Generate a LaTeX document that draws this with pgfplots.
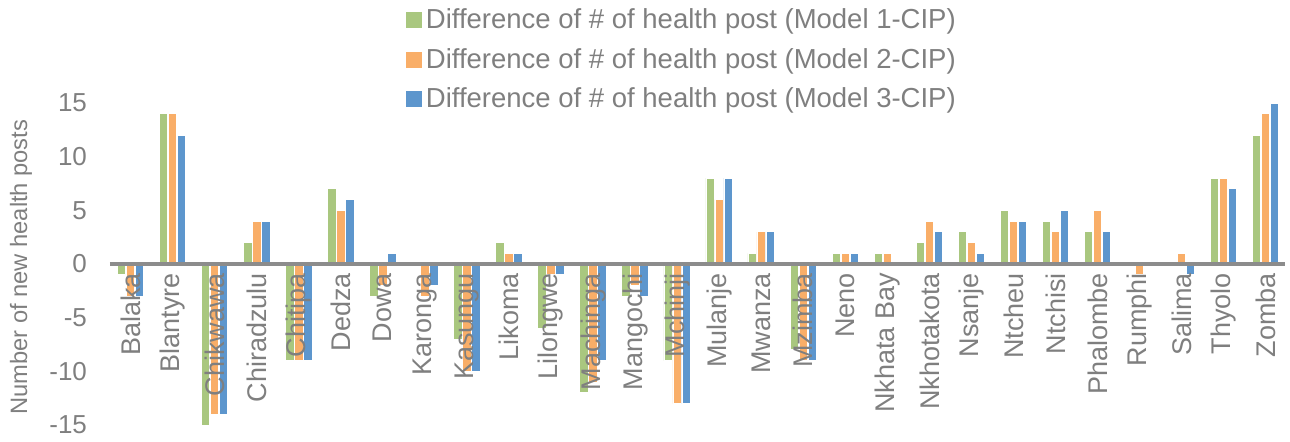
\documentclass[border=0pt]{standalone}
\usepackage{fontspec}
\setmainfont{Liberation Sans}
\usepackage{pgfplots}
\usepackage{pgfplotstable}
\pgfplotsset{compat=1.18}
\definecolor{mGreen}{HTML}{A9C77F}
\definecolor{mOrange}{HTML}{F9AE68}
\definecolor{mBlue}{HTML}{5D96CD}
\definecolor{txtGray}{HTML}{7F7F7F}
\definecolor{axGray}{HTML}{8C8C8C}

% difference of number of health posts per district, models 1-3 vs CIP
\pgfplotstableread[col sep=comma]{
cat,m1,m2,m3
Balaka,-1,-3,-3
Blantyre,14,14,12
Chikwawa,-15,-14,-14
Chiradzulu,2,4,4
Chitipa,-9,-9,-9
Dedza,7,5,6
Dowa,-3,-2,1
Karonga,0,-3,-2
Kasungu,-7,-10,-10
Likoma,2,1,1
Lilongwe,-6,-1,-1
Machinga,-12,-11,-9
Mangochi,-3,-2,-3
Mchinji,-9,-13,-13
Mulanje,8,6,8
Mwanza,1,3,3
Mzimba,-8,-9,-9
Neno,1,1,1
Nkhata Bay,1,1,0
Nkhotakota,2,4,3
Nsanje,3,2,1
Ntcheu,5,4,4
Ntchisi,4,3,5
Phalombe,3,5,3
Rumphi,0,-1,0
Salima,0,1,-1
Thyolo,8,8,7
Zomba,12,14,15
}\hpdata

\begin{document}
\begin{tikzpicture}
\begin{axis}[
  scale only axis,
  width=587.5pt, height=161pt,
  xmin=-0.49, xmax=27.46,
  ymin=-15, ymax=15,
  ytick={-15,-10,...,15},
  xtick={0,...,27},
  xticklabels from table={\hpdata}{cat},
  axis on top,
  axis x line=middle,
  axis y line=left,
  y axis line style={draw=none},
  x axis line style={draw=axGray, line width=1.6pt, -},
  hide obscured x ticks=false,
  hide obscured y ticks=false,
  major tick length=0pt,
  /pgf/number format/assume math mode=true,
  xticklabel style={rotate=90, anchor=east, inner sep=4.5pt,
    font=\fontsize{13.5}{15}\selectfont, text=txtGray},
  yticklabel style={font=\fontsize{13}{15}\selectfont, text=txtGray, xshift=-8pt},
  ylabel={Number of new health posts},
  ylabel style={font=\fontsize{11.85}{13}\selectfont, text=txtGray,
    at={(axis description cs:-0.0757,0.49)}, anchor=center},
  ybar, bar width=0.2,
  legend style={draw=none, fill=none, at={(axis description cs:0.2515,1.307)},
    anchor=north west, font=\fontsize{13.75}{16}\selectfont, text=txtGray,
    row sep=4.4pt, inner sep=0pt, cells={anchor=west}},
  legend image code/.code={\fill[#1,draw=none] (-1.5pt,-4pt) rectangle (6.5pt,4pt);},
]
\addplot[fill=mGreen, draw=white, line width=0.4pt, bar shift=-0.214]
  table[x expr=\coordindex, y=m1] {\hpdata};
\addplot[fill=mOrange, draw=white, line width=0.4pt, bar shift=0]
  table[x expr=\coordindex, y=m2] {\hpdata};
\addplot[fill=mBlue, draw=white, line width=0.4pt, bar shift=0.214]
  table[x expr=\coordindex, y=m3] {\hpdata};
\legend{Difference of \# of health post (Model 1-CIP),
        Difference of \# of health post (Model 2-CIP),
        Difference of \# of health post (Model 3-CIP)}
\coordinate (bl) at (rel axis cs:0,0);
\coordinate (tr) at (rel axis cs:1,1);
\end{axis}
% page frame as in the reference: 110px left, 5px right, 103px top, 16px bottom
\pgfresetboundingbox
\path ([shift={(-55pt,-8pt)}]bl) rectangle ([shift={(2.5pt,51.5pt)}]tr);
\end{tikzpicture}
\end{document}
